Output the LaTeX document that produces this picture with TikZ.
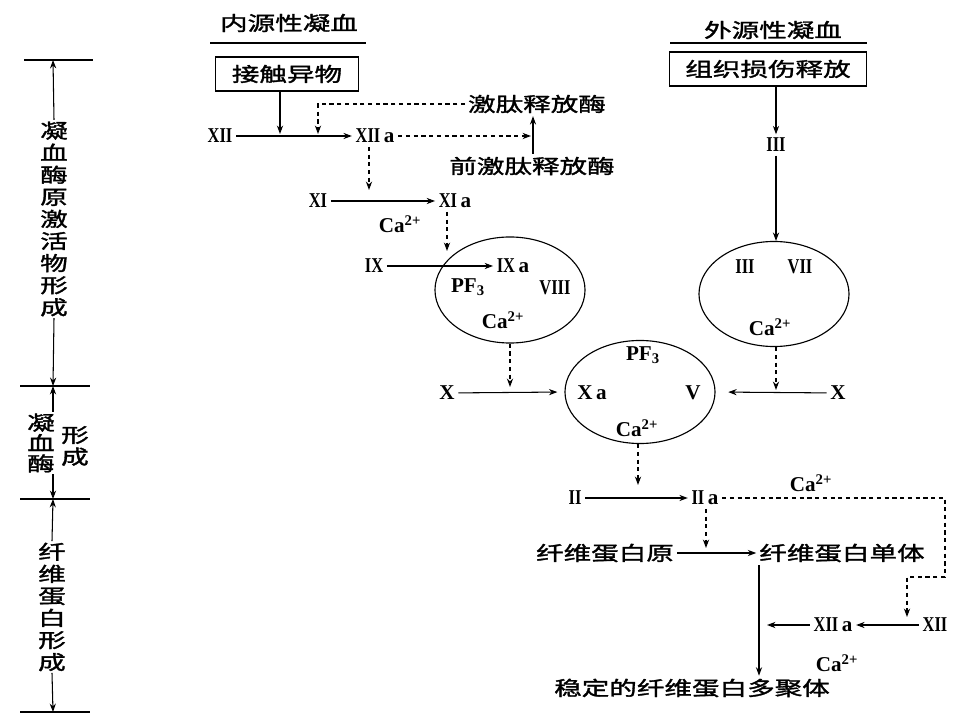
\documentclass[tikz,border=0pt]{standalone}
\usepackage{fontspec}
\setmainfont{Liberation Serif}
\newfontfamily\cjk[FakeStretch=1.4,FakeBold=1.6]{Noto Sans CJK SC}
\newfontfamily\rmnum[FakeStretch=0.78]{Liberation Serif Bold}
\usetikzlibrary{arrows.meta,shapes.geometric}
\newcommand\rn[1]{{\rmnum #1}}
\tikzset{
  zh/.style={font=\cjk\fontsize{14}{16}\selectfont, inner sep=2pt},
  zhv/.style={font=\cjk\fontsize{14}{15.7}\selectfont, inner sep=1pt, align=center},
  lt/.style={font=\bfseries\fontsize{15}{17}\selectfont, inner sep=2.5pt},
  arr/.style={-{Stealth[length=6pt,width=4.4pt]}, line width=0.75pt},
  darr/.style={arr, dash pattern=on 3pt off 2.5pt},
  bx/.style={zh, draw, line width=0.8pt, minimum height=0.85cm},
  oval/.style={ellipse, draw, line width=0.8pt, minimum width=3.75cm, minimum height=2.65cm},
  rule/.style={line width=0.8pt}
}
\begin{document}
\begin{tikzpicture}[x=0.025cm,y=-0.025cm]
\useasboundingbox (0,0) rectangle (960,720);

% ---------- left bracket ----------
\coordinate (h1) at (53,60);
\coordinate (h2) at (53,386);
\coordinate (h3) at (53,499);
\coordinate (h4) at (53,712);
\draw[rule] (24,60) -- (93,60);
\draw[rule] (20,386) -- (90,386);
\draw[rule] (20,499) -- (90,499);
\draw[rule] (20,712) -- (90,712);
\node[zhv] (lc1) at (54,219) {凝\\血\\酶\\原\\激\\活\\物\\形\\成};
\node[zhv, font=\cjk\fontsize{14}{14.5}\selectfont] (lc2) at (41,443) {凝\\血\\酶};
\node[zhv, font=\cjk\fontsize{14}{15.5}\selectfont] (lc3) at (75,446) {形\\成};
\node[zhv] (lc4) at (52,607) {纤\\维\\蛋\\白\\形\\成};
\draw[arr] (lc1.north) -- (h1);
\draw[arr] (lc1.south) -- (h2);
\draw[arr] (lc2.north -| h2) -- (h2);
\draw[arr] (lc2.south -| h3) -- (h3);
\draw[arr] (lc4.north) -- (h3);
\draw[arr] (lc4.south) -- (h4);

% ---------- titles and boxes ----------
\node[zh] (t1) at (289,23) {内源性凝血};
\draw[rule] (210,43) -- (366,43);
\node[bx, minimum width=3.575cm] (b1) at (287,74) {接触异物};
\node[zh] (t2) at (773,30) {外源性凝血};
\draw[rule] (670,43) -- (867,43);
\node[bx, minimum width=4.925cm] (b2) at (768,69) {组织损伤释放};

% ---------- intrinsic ----------
\node[lt] (n12) at (220,136) {\rn{XII}};
\node[lt] (n12a) at (375,136) {\rn{XII}\,a};
\coordinate (j1) at (280,134);
\coordinate (j2) at (318,134);
\node[zh] (kal) at (537,104) {激肽释放酶};
\node[zh] (pkal) at (532,166) {前激肽释放酶};
\coordinate (c1) at (531,136);
\coordinate (u1) at (533,0);
\node[lt] (n11) at (318,201) {\rn{XI}};
\node[lt] (n11a) at (455,201) {\rn{XI}\,a};
\node[lt] (ca1) at (400,224) {Ca\textsuperscript{2+}};
\coordinate (j3) at (369,190);
\coordinate (j4) at (447,251);
\node[lt] (n9) at (374,266) {\rn{IX}};
\node[lt] (n9a) at (513,266) {\rn{IX}\,a};

\node[oval] (o1) at (510,290) {};
\node[lt] (pf1) at (468,287) {PF\textsubscript{3}};
\node[lt] (n8) at (555,288) {\rn{VIII}};
\node[lt] (ca2) at (503,320) {Ca\textsuperscript{2+}};

\draw[arr] (b1.south -| j1) -- (j1);
\draw[arr] (n12) -- (n12a);
\draw[darr] (kal.west) -| (j2);
\draw[darr] (n12a.east) -- (c1);
\draw[arr] (pkal.north -| u1) -- (kal.south -| u1);
\draw[darr] (n12a.south -| j3) -- (j3);
\draw[arr] (n11) -- (n11a);
\draw[darr] (n11a.south -| j4) -- (j4);
\draw[arr] (n9) -- (n9a);

% ---------- extrinsic ----------
\node[lt] (n3) at (776,145) {\rn{III}};
\node[oval, minimum height=2.625cm] (o2) at (774,294) {};
\node[lt] (n3b) at (745,267) {\rn{III}};
\node[lt] (n7) at (800,267) {\rn{VII}};
\node[lt] (ca3) at (770,327) {Ca\textsuperscript{2+}};
\draw[arr] (b2.south -| n3) -- (n3);
\draw[arr] (n3) -- (o2.north -| n3);

% ---------- common pathway ----------
\node[oval, minimum height=2.575cm] (o3) at (640,392) {};
\node[lt] (pf2) at (643,355) {PF\textsubscript{3}};
\node[lt] (xa) at (592,393) {X\,a};
\node[lt] (v) at (693,393) {V};
\node[lt] (ca4) at (637,428) {Ca\textsuperscript{2+}};
\node[lt] (x1) at (447,393) {X};
\node[lt] (x2) at (838,393) {X};
\coordinate (j5) at (510,387);
\coordinate (j6) at (776,390);
\draw[darr] (o1.south) -- (j5);
\draw[darr] (o2.south -| j6) -- (j6);
\draw[arr, shorten >=5pt] (x1) -- (o3.west);
\draw[arr, shorten >=9pt] (x2) -- (o3.east);

\coordinate (j7) at (638,485);
\draw[darr] (o3.south -| j7) -- (j7);
\node[lt] (n2) at (575,498) {\rn{II}};
\node[lt] (n2a) at (705,498) {\rn{II}\,a};
\node[lt] (ca5) at (811,483) {Ca\textsuperscript{2+}};
\draw[arr] (n2) -- (n2a);
\coordinate (w1) at (945,498);
\coordinate (w2) at (945,577);
\coordinate (j8) at (907,617);
\draw[darr] (n2a.east) -- (w1) -- (w2) -| (j8);
\coordinate (j9) at (706,548);
\draw[darr] (n2a.south -| j9) -- (j9);

\node[zh] (fg) at (605,553) {纤维蛋白原};
\node[zh] (fm) at (842,553) {纤维蛋白单体};
\draw[arr] (fg) -- (fm);
\node[zh] (st) at (692,688) {稳定的纤维蛋白多聚体};
\coordinate (s1) at (759,0);
\draw[arr] (fm.south -| s1) -- (st.north -| s1);

\node[lt] (n12b) at (935,625) {\rn{XII}};
\node[lt] (n12c) at (833,625) {\rn{XII}\,a};
\node[lt] (ca6) at (837,663) {Ca\textsuperscript{2+}};
\coordinate (j10) at (767,625);
\draw[arr] (n12b) -- (n12c);
\draw[arr] (n12c) -- (j10);
\end{tikzpicture}
\end{document}
